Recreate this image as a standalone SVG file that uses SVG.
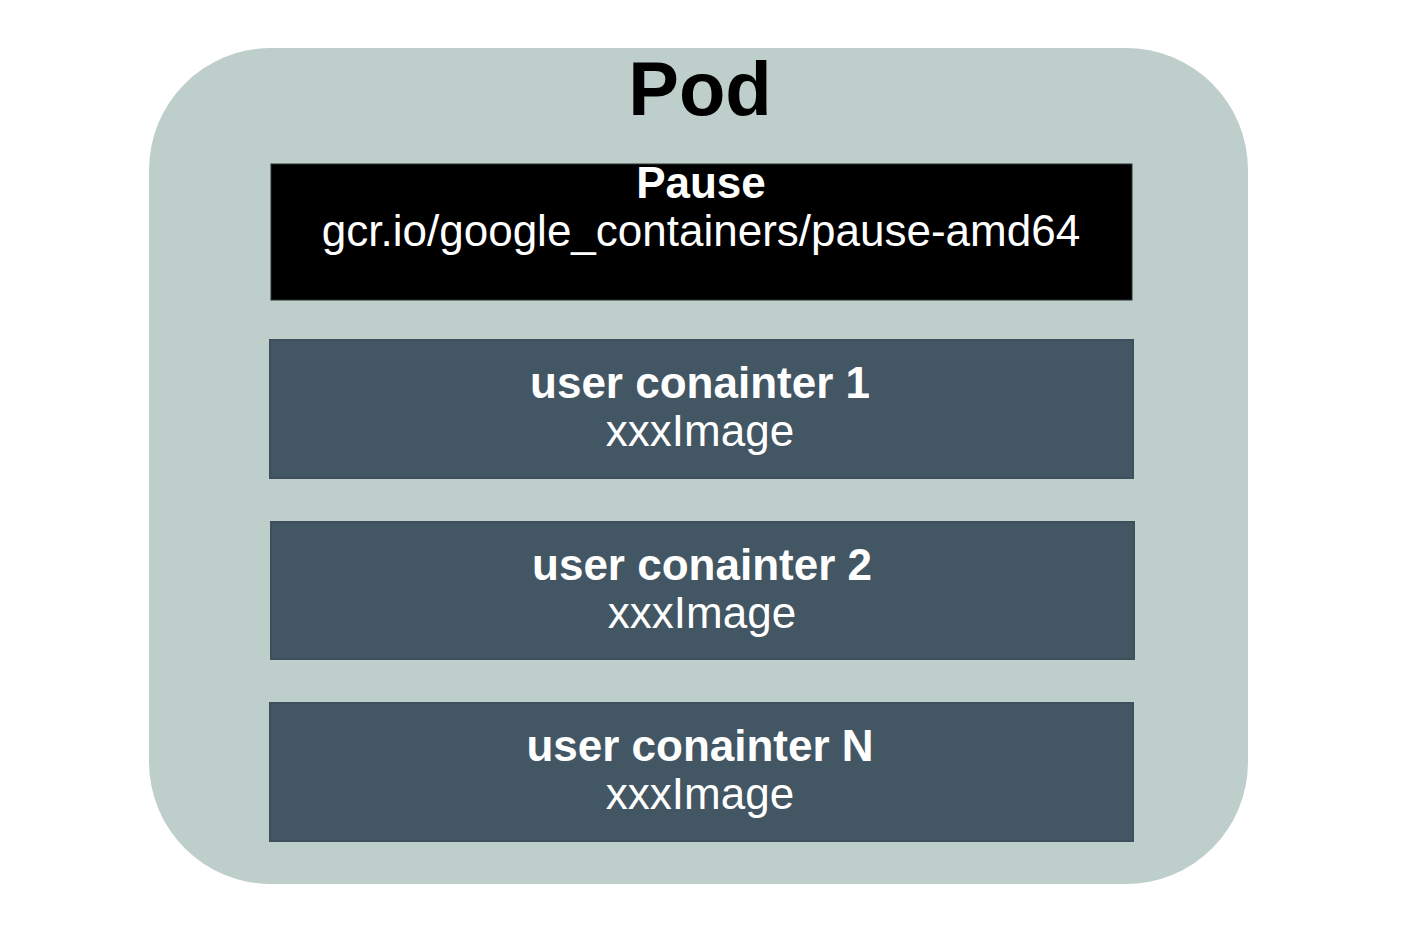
<svg xmlns="http://www.w3.org/2000/svg" width="1408" height="926" viewBox="0 0 1408 926">
<style>
.t{font-family:"Liberation Sans",Arial,sans-serif;fill:#ffffff;text-anchor:middle;font-size:44px}
.b{font-weight:bold}
.uc{fill:#435663;stroke:#3d4f5b;stroke-width:2}
</style>
<rect width="1408" height="926" fill="#ffffff"/>
<g id="pod">
<rect x="149" y="48" width="1099" height="836" rx="122" ry="122" fill="#becfcb"/>
<text x="700" y="115" class="t b" style="font-size:76px;fill:#000000">Pod</text>
</g>
<g id="pause">
<rect x="271" y="164" width="861" height="136" fill="#000000" stroke="#2a2f31" stroke-width="1"/>
<text x="701" y="198" class="t b">Pause</text>
<text x="701" y="246" class="t">gcr.io/google_containers/pause-amd64</text>
</g>
<g id="user1">
<rect x="270" y="340" width="863" height="138" class="uc"/>
<text x="700" y="398" class="t b">user conainter 1</text>
<text x="700" y="446" class="t">xxxImage</text>
</g>
<g id="user2">
<rect x="271" y="522" width="863" height="137" class="uc"/>
<text x="702" y="580" class="t b">user conainter 2</text>
<text x="702" y="628" class="t">xxxImage</text>
</g>
<g id="userN">
<rect x="270" y="703" width="863" height="138" class="uc"/>
<text x="700" y="761" class="t b">user conainter N</text>
<text x="700" y="809" class="t">xxxImage</text>
</g>
<g id="connectors"></g>
</svg>
